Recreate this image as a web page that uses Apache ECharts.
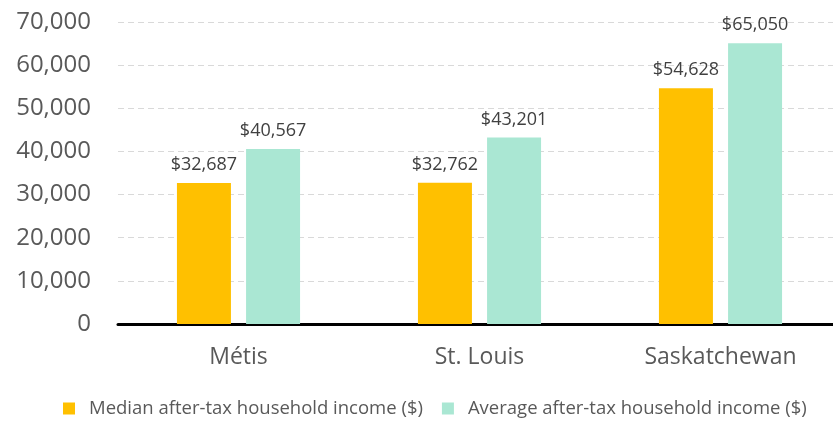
<!DOCTYPE html>
<html>
<head>
    <meta charset="utf-8">
    <title>After-tax household income</title>
    <script src="https://cdn.jsdelivr.net/npm/echarts@6/dist/echarts.min.js"></script>
</head>
<body style="margin:0;overflow:hidden">
    <div id="chart" style="width: 841px;height:421px;"></div>
    <script type="text/javascript">
var categories = ['Métis', 'St. Louis', 'Saskatchewan'];
var seriesNames = ['Median after-tax household income ($)', 'Average after-tax household income ($)'];
var medianIncome = [32687, 32762, 54628];
var averageIncome = [40567, 43201, 65050];

var myChart = echarts.init(document.getElementById('chart'));

function money(p) {
    return '$' + p.value.toLocaleString('en-US');
}

var option = {
    animation: false,
    textStyle: {fontFamily: 'Open Sans'},
    // plot runs a bit past the right edge of the window, like the original
    grid: {left: 118, right: 0, top: 22, bottom: 97},
    legend: {
        data: seriesNames,
        bottom: -2,
        left: 58,
        itemWidth: 12,
        itemHeight: 12,
        itemGap: 19,
        icon: 'rect',
        textStyle: {fontSize: 18.5, color: '#595959', padding: [0, 0, 0, 9]}
    },
    xAxis: {
        type: 'category',
        data: categories,
        axisLine: {lineStyle: {color: '#000', width: 3}},
        axisTick: {show: false},
        axisLabel: {fontSize: 23, color: '#595959', margin: 22}
    },
    yAxis: {
        type: 'value',
        min: 0,
        max: 70000,
        interval: 10000,
        axisLabel: {
            fontSize: 24, color: '#595959', margin: 27,
            formatter: function (v) { return v.toLocaleString('en-US'); }
        },
        splitLine: {lineStyle: {color: '#d9d9d9', type: [6, 4]}}
    },
    series: [
        {
            name: seriesNames[0],
            type: 'bar',
            data: medianIncome,
            barWidth: 54,
            barGap: '28%',
            itemStyle: {color: '#ffc000'},
            label: {show: true, position: 'top', fontSize: 18, color: '#404040', distance: 9, formatter: money}
        },
        {
            name: seriesNames[1],
            type: 'bar',
            data: averageIncome,
            barWidth: 54,
            barGap: '28%',
            itemStyle: {color: '#aae7d3'},
            label: {show: true, position: 'top', fontSize: 18, color: '#404040', distance: 9, formatter: money}
        }
    ]
};

myChart.setOption(option);
    </script>
</body>
</html>
